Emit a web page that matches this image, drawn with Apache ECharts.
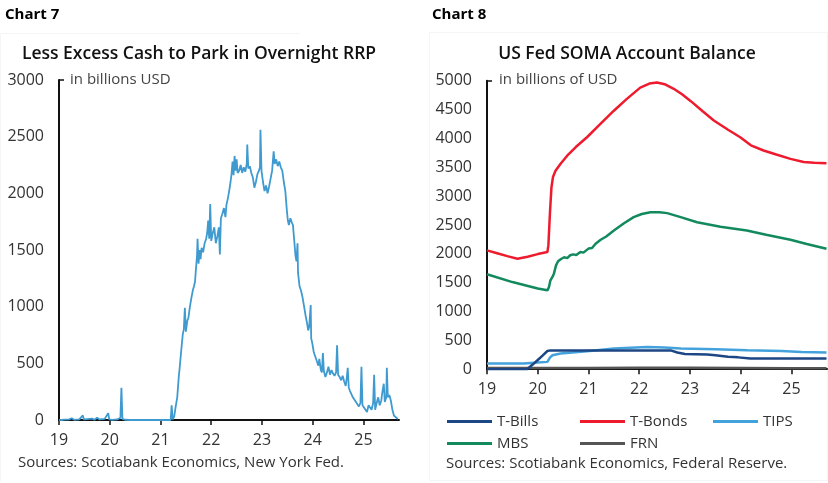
<!DOCTYPE html>
<html lang="en">
<head>
    <meta charset="UTF-8">
    <title>RRP and SOMA</title>
    <script src="https://cdn.jsdelivr.net/npm/echarts@6/dist/echarts.min.js"></script>
    <style>
        body { margin: 0; background: #fff; }
    </style>
</head>
<body>
    <div id="main" style="width: 828px;height:483px;"></div>
    <script type="text/javascript">

        // ticks shown on both x axes (two-digit years)
        const yearTicks = [19, 20, 21, 22, 23, 24, 25];

        // Chart 7: overnight reverse repo, billions USD, [year, value]
        const rrp = [
            [19.00, 2], [19.05, 0], [19.10, 3], [19.20, 5], [19.25, 15], [19.30, 2], [19.40, 5],
            [19.47, 40], [19.49, 5], [19.55, 8], [19.65, 12], [19.70, 3], [19.75, 20], [19.80, 5],
            [19.90, 10], [19.97, 60], [19.99, 5], [20.05, 2], [20.15, 5], [20.21, 20], [20.23, 285],
            [20.25, 10], [20.30, 2], [20.40, 0], [20.80, 0], [21.20, 0], [21.22, 130], [21.24, 5],
            [21.27, 30], [21.30, 120], [21.33, 200], [21.36, 380], [21.38, 470], [21.41, 620],
            [21.44, 760], [21.46, 800], [21.48, 990], [21.50, 780], [21.53, 880], [21.55, 900],
            [21.58, 1000], [21.61, 1080], [21.64, 1150], [21.66, 1180], [21.68, 1220], [21.70, 1340],
            [21.72, 1450], [21.73, 1600], [21.75, 1380], [21.77, 1500], [21.79, 1420], [21.81, 1520],
            [21.84, 1480], [21.87, 1560], [21.90, 1600], [21.92, 1650], [21.94, 1760], [21.96, 1600],
            [21.98, 1905], [22.00, 1580], [22.03, 1650], [22.06, 1700], [22.09, 1560], [22.12, 1620],
            [22.15, 1700], [22.17, 1460], [22.19, 1780], [22.22, 1820], [22.25, 1870], [22.28, 1790],
            [22.30, 1900], [22.33, 1960], [22.36, 2040], [22.38, 2100], [22.40, 2170], [22.42, 2280],
            [22.44, 2160], [22.46, 2330], [22.48, 2200], [22.50, 2300], [22.52, 2180], [22.55, 2200],
            [22.58, 2250], [22.61, 2180], [22.64, 2230], [22.67, 2190], [22.70, 2260], [22.71, 2430],
            [22.73, 2220], [22.76, 2240], [22.79, 2180], [22.82, 2140], [22.85, 2050], [22.88, 2100],
            [22.91, 2170], [22.94, 2200], [22.96, 2230], [22.97, 2560], [22.99, 2200], [23.02, 2100],
            [23.05, 2020], [23.08, 2070], [23.11, 2000], [23.14, 2060], [23.17, 2130], [23.20, 2200],
            [23.23, 2370], [23.25, 2260], [23.28, 2300], [23.31, 2240], [23.34, 2280], [23.37, 2230],
            [23.40, 2200], [23.43, 2100], [23.46, 2020], [23.49, 1850], [23.51, 1760], [23.53, 1720],
            [23.56, 1780], [23.59, 1740], [23.61, 1720], [23.64, 1560], [23.66, 1450], [23.68, 1400],
            [23.70, 1560], [23.71, 1300], [23.74, 1180], [23.77, 1140], [23.80, 1080], [23.83, 1000],
            [23.86, 920], [23.89, 850], [23.91, 790], [23.93, 820], [23.96, 1015], [23.97, 720],
            [23.99, 680], [24.02, 600], [24.05, 560], [24.08, 520], [24.11, 480], [24.13, 540],
            [24.16, 440], [24.18, 420], [24.20, 590], [24.22, 430], [24.25, 380], [24.28, 420],
            [24.31, 470], [24.34, 400], [24.37, 440], [24.40, 410], [24.43, 390], [24.46, 420],
            [24.48, 660], [24.50, 400], [24.53, 380], [24.56, 350], [24.59, 390], [24.62, 340],
            [24.65, 300], [24.67, 370], [24.69, 460], [24.71, 290], [24.73, 260], [24.76, 230],
            [24.79, 200], [24.82, 180], [24.85, 160], [24.88, 140], [24.91, 120], [24.94, 150],
            [24.96, 470], [24.98, 130], [25.01, 110], [25.04, 90], [25.07, 70], [25.10, 130],
            [25.13, 110], [25.16, 90], [25.19, 150], [25.21, 400], [25.23, 90], [25.26, 150],
            [25.29, 200], [25.32, 130], [25.35, 170], [25.37, 240], [25.40, 320], [25.42, 160],
            [25.45, 200], [25.46, 460], [25.48, 200], [25.51, 220], [25.54, 170], [25.57, 90],
            [25.60, 40], [25.63, 30], [25.66, 15], [25.68, 10]
        ];

        // Chart 8: SOMA holdings, billions USD, [year, value]
        const tBills = [
            [19.0, 0], [19.79, 0], [19.9, 80], [20.0, 160], [20.1, 240], [20.19, 315], [20.25, 326],
            [21.0, 326], [22.0, 326], [22.62, 326], [22.75, 290], [22.9, 265], [23.34, 254],
            [23.5, 240], [23.75, 215], [23.95, 205], [24.19, 185], [24.5, 185], [25.0, 185], [25.69, 185]
        ];
        const tBonds = [
            [19.0, 2060], [19.2, 2010], [19.4, 1960], [19.6, 1915], [19.8, 1950], [20.0, 1995],
            [20.19, 2030], [20.21, 2150], [20.24, 2700], [20.27, 3150], [20.3, 3330], [20.35, 3440],
            [20.45, 3560], [20.58, 3700], [20.75, 3850], [20.97, 4020], [21.2, 4220], [21.5, 4480],
            [21.75, 4680], [22.02, 4880], [22.2, 4950], [22.35, 4970], [22.5, 4940], [22.68, 4860],
            [22.85, 4760], [23.01, 4650], [23.25, 4470], [23.47, 4310], [23.75, 4150], [23.99, 4020],
            [24.2, 3880], [24.45, 3790], [24.7, 3720], [24.98, 3645], [25.24, 3590], [25.45, 3580],
            [25.69, 3570]
        ];
        const tips = [
            [19.0, 100], [19.72, 100], [20.0, 115], [20.19, 127], [20.24, 200], [20.29, 242],
            [20.45, 271], [20.97, 311], [21.5, 358], [22.16, 386], [22.5, 375], [22.82, 358],
            [23.5, 345], [24.13, 329], [24.8, 315], [25.2, 300], [25.69, 289]
        ];
        const mbs = [
            [19.0, 1645], [19.5, 1510], [20.0, 1400], [20.19, 1367], [20.22, 1420], [20.25, 1540],
            [20.29, 1600], [20.32, 1660], [20.36, 1800], [20.4, 1870], [20.46, 1910], [20.52, 1940],
            [20.58, 1925], [20.64, 1975], [20.7, 1990], [20.76, 1980], [20.84, 2030], [20.9, 2020],
            [21.0, 2090], [21.07, 2100], [21.14, 2175], [21.24, 2244], [21.35, 2300], [21.5, 2405],
            [21.7, 2530], [21.89, 2635], [22.05, 2690], [22.22, 2720], [22.4, 2720], [22.55, 2705],
            [22.8, 2640], [23.14, 2548], [23.6, 2470], [24.12, 2405], [24.5, 2330], [24.98, 2244],
            [25.3, 2170], [25.69, 2088]
        ];
        const frn = [
            [19.0, 20], [20.0, 20], [21.0, 22], [22.0, 25], [23.0, 23], [24.0, 20], [25.0, 17], [25.69, 15]
        ];

        const FONT = 'Open Sans';
        const myChart = echarts.init(document.getElementById('main'));

        function xAxisFor(gridIndex) {
            return {
                type: 'value', gridIndex: gridIndex, min: 19, max: 25.7,
                splitLine: { show: false },
                axisLine: { onZero: false, lineStyle: { color: '#111', width: 2 } },
                axisTick: { show: true, customValues: yearTicks, length: 5, lineStyle: { color: '#111', width: 1.5 } },
                axisLabel: { customValues: yearTicks, margin: 12, fontFamily: FONT, fontSize: 16, color: '#333' }
            };
        }
        function yAxisFor(gridIndex, max) {
            return {
                type: 'value', gridIndex: gridIndex, min: 0, max: max, interval: 500,
                splitLine: { show: false },
                axisLine: { show: true, lineStyle: { color: '#111', width: 2 } },
                axisTick: { show: true, inside: true, customValues: [max], length: 5, lineStyle: { color: '#111', width: 1.5 } },
                axisLabel: { margin: 15, fontFamily: FONT, fontSize: 16, color: '#333', formatter: v => String(v) }
            };
        }
        function line(name, data, color, width, xi) {
            return {
                name: name, type: 'line', data: data, xAxisIndex: xi, yAxisIndex: xi,
                showSymbol: false, symbol: 'none', animation: false,
                lineStyle: { color: color, width: width }, itemStyle: { color: color }
            };
        }
        function legendItem(name, left, top) {
            return {
                data: [name], left: left, top: top, icon: 'rect', itemWidth: 45, itemHeight: 3,
                textStyle: { fontFamily: FONT, fontSize: 15, color: '#333' }
            };
        }
        function txt(x, y, text, size, weight, color, align) {
            return {
                type: 'text', x: x, y: y,
                style: {
                    text: text, fontFamily: FONT, fontSize: size, fontWeight: weight,
                    fill: color, textAlign: align || 'left', textVerticalAlign: 'middle'
                }
            };
        }

        const option = {
            animation: false,
            grid: [
                { left: 59, top: 80, width: 340, height: 340 },
                { left: 487, top: 80.7, width: 340, height: 288.5 }
            ],
            xAxis: [xAxisFor(0), xAxisFor(1)],
            yAxis: [yAxisFor(0, 3000), yAxisFor(1, 5000)],
            legend: [
                legendItem('T-Bills', 442, 409),
                legendItem('T-Bonds', 575, 409),
                legendItem('TIPS', 708, 409),
                legendItem('MBS', 442, 431),
                legendItem('FRN', 575, 431)
            ],
            series: [
                line('RRP', rrp, '#3f9ad0', 1.8, 0),
                line('FRN', frn, '#555555', 2.5, 1),
                line('MBS', mbs, '#138a5e', 2.5, 1),
                line('TIPS', tips, '#43a2dc', 2.5, 1),
                line('T-Bills', tBills, '#1c4684', 2.5, 1),
                line('T-Bonds', tBonds, '#ee1b2e', 2.5, 1)
            ],
            graphic: [
                { type: 'polyline', shape: { points: [[0.5, 481], [0.5, 33.5], [300, 33.5]] }, style: { fill: 'none', stroke: '#f5f5f5', lineWidth: 1 }, z: -1 },
                { type: 'rect', shape: { x: 429.5, y: 32.5, width: 398, height: 448 }, style: { fill: 'none', stroke: '#f5f5f5', lineWidth: 1 }, z: -1 },
                txt(5, 15, 'Chart 7', 15, 'bold', '#000'),
                txt(432, 15, 'Chart 8', 15, 'bold', '#000'),
                txt(199, 54, 'Less Excess Cash to Park in Overnight RRP', 17.5, 600, '#111', 'center'),
                txt(627, 54, 'US Fed SOMA Account Balance', 17.5, 600, '#111', 'center'),
                txt(70, 80, 'in billions USD', 15, 'normal', '#444'),
                txt(499, 80, 'in billions of USD', 15, 'normal', '#444'),
                txt(18, 463, 'Sources: Scotiabank Economics, New York Fed.', 15, 'normal', '#333'),
                txt(446, 464, 'Sources: Scotiabank Economics, Federal Reserve.', 15, 'normal', '#333')
            ]
        };

        myChart.setOption(option);
    </script>
</body>
</html>
